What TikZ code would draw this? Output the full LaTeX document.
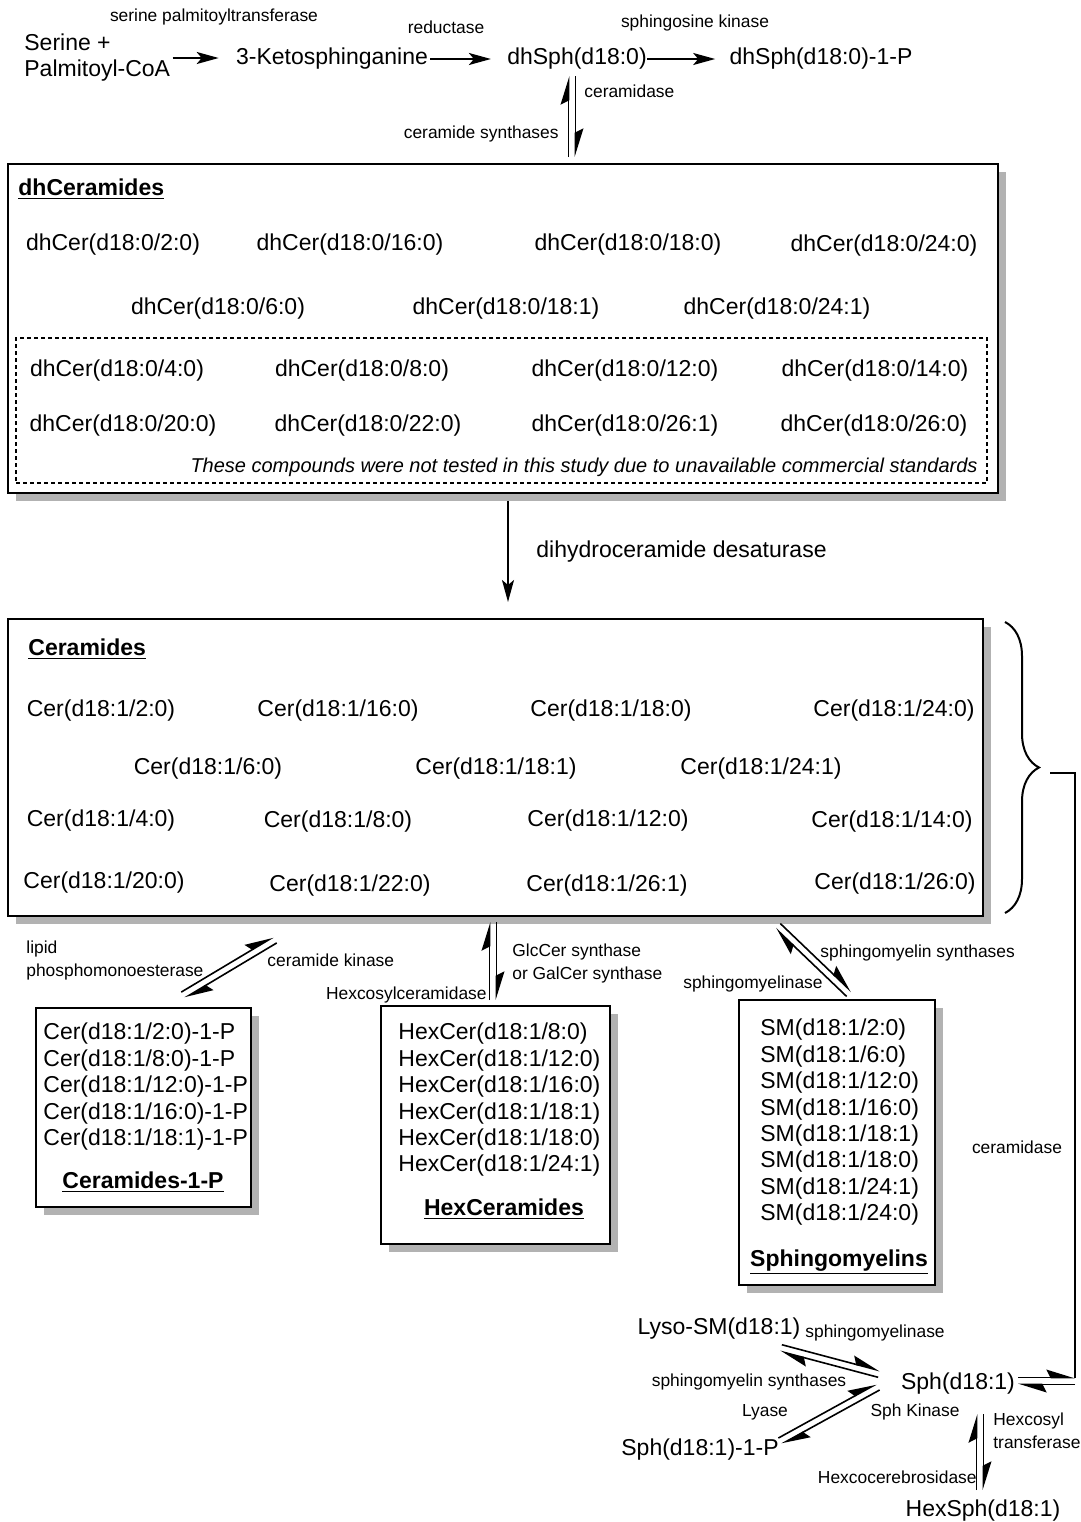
\documentclass[tikz,border=0pt]{standalone}
\usepackage{fontspec}
\setmainfont{Liberation Sans}
\usetikzlibrary{arrows.meta,calc,fit,shadows,decorations.pathreplacing}

\tikzset{
    main/.style={font=\fontsize{11.5}{13}\selectfont, inner sep=0pt, yshift=-1.5pt},
    lab/.style={font=\fontsize{8.7}{11.5}\selectfont, inner sep=0pt},
    ttl/.style={font=\fontsize{11.5}{13}\selectfont\bfseries, inner sep=0pt, anchor=base},
    item/.style={main, anchor=west},
    bigbox/.style={draw, line width=1pt, fill=white, inner sep=0pt,
        drop shadow={shadow xshift=4pt, shadow yshift=-4pt, fill=black!30, opacity=1}},
    fwd/.style={line width=1pt, -{Stealth[length=11pt, width=6pt, inset=2.5pt]}},
    half/.style={line width=0.8pt, -{Stealth[harpoon, length=13pt, width=8pt, inset=2pt]}},
}

% two opposite half arrows between #1 and #2
\newcommand{\eqpair}[2]{%
    \draw[half] ($(#1)!1.7pt!90:(#2)$) -- ($(#2)!1.7pt!-90:(#1)$);
    \draw[half] ($(#2)!1.7pt!90:(#1)$) -- ($(#1)!1.7pt!-90:(#2)$);
}

\begin{document}
\begin{tikzpicture}[x=0.5pt, y=-0.5pt]
    \useasboundingbox (0,0) rectangle (1081,1522);

    % top row
    \node[main, anchor=west, align=left] (serine) at (24,55) {Serine +\\Palmitoyl-CoA};
    \node[main] (keto) at (332,56) {3-Ketosphinganine};
    \node[main] (dhsph) at (577,56) {dhSph(d18:0)};
    \node[main] (dhsphp) at (821,56) {dhSph(d18:0)-1-P};
    \node[lab] (sptlab) at (214,17) {serine palmitoyltransferase};
    \node[lab] (redlab) at (446,27) {reductase};
    \node[lab] (sklab) at (695,23) {sphingosine kinase};
    \draw[fwd, shorten <=1pt, shorten >=8.5pt] (serine.east) -- (serine.east -| keto.west);
    \draw[fwd, shorten <=1pt, shorten >=8pt] (keto.east) -- (dhsph.west);
    \draw[fwd, shorten >=7pt] (dhsph.east) -- (dhsphp.west);

    \coordinate (ds1) at (572,76);
    \coordinate (ds2) at (572,157);
    \eqpair{ds1}{ds2}
    \node[lab, anchor=west] (cdlab) at (584,91) {ceramidase};
    \node[lab, anchor=east] (cslab) at (559,134) {ceramide synthases};

    % dhCeramides
    \node[bigbox, fit={(8,164) (998,493)}] (dhcer) {};
    \node[ttl, anchor=base west] (dhcerttl) at (18,195) {\underline{dhCeramides}};
    \foreach \x/\y/\t [count=\i] in {
        113/242/{dhCer(d18:0/2:0)}, 350/242/{dhCer(d18:0/16:0)},
        628/242/{dhCer(d18:0/18:0)}, 884/243/{dhCer(d18:0/24:0)},
        218/306/{dhCer(d18:0/6:0)}, 506/306/{dhCer(d18:0/18:1)},
        777/306/{dhCer(d18:0/24:1)},
        117/368/{dhCer(d18:0/4:0)}, 362/368/{dhCer(d18:0/8:0)},
        625/368/{dhCer(d18:0/12:0)}, 875/368/{dhCer(d18:0/14:0)},
        123/423/{dhCer(d18:0/20:0)}, 368/423/{dhCer(d18:0/22:0)},
        625/423/{dhCer(d18:0/26:1)}, 874/423/{dhCer(d18:0/26:0)}}
        \node[main] (dc\i) at (\x,\y) {\t};
    \node[draw, dashed, dash pattern=on 2pt off 1.5pt, line width=0.8pt, inner sep=0pt,
        fit={(16,338) (987,483)}] (untested) {};
    \node[font=\fontsize{10}{12}\selectfont\itshape, inner sep=0pt, anchor=east] (note)
        at (978,467) {These compounds were not tested in this study due to unavailable commercial standards};

    % Ceramides
    \node[bigbox, fit={(8,619) (983,916)}] (cer) {};
    \node[ttl, anchor=base west] (certtl) at (28,655) {\underline{Ceramides}};
    \foreach \x/\y/\t [count=\i] in {
        101/708/{Cer(d18:1/2:0)}, 338/708/{Cer(d18:1/16:0)},
        611/708/{Cer(d18:1/18:0)}, 894/708/{Cer(d18:1/24:0)},
        208/766/{Cer(d18:1/6:0)}, 496/766/{Cer(d18:1/18:1)},
        761/766/{Cer(d18:1/24:1)},
        101/818/{Cer(d18:1/4:0)}, 338/819/{Cer(d18:1/8:0)},
        608/818/{Cer(d18:1/12:0)}, 892/819/{Cer(d18:1/14:0)},
        104/880/{Cer(d18:1/20:0)}, 350/883/{Cer(d18:1/22:0)},
        607/883/{Cer(d18:1/26:1)}, 895/881/{Cer(d18:1/26:0)}}
        \node[main] (c\i) at (\x,\y) {\t};

    \draw[fwd, shorten <=3.5pt, shorten >=8pt] (508,0 |- dhcer.south) -- (508,0 |- cer.north);
    \node[main, anchor=west] (desat) at (536,549) {dihydroceramide desaturase};

    % brace to Sph
    \draw[line width=1pt, decorate, decoration={brace, amplitude=17pt}] (1005,622) -- (1005,913);
    \coordinate (bt) at (1050,773);
    \coordinate (sphr) at (1075,1377.6);
    \draw[line width=1pt] (bt) -| (sphr);
    \node[lab] (cdlab2) at (1017,1147) {ceramidase};

    % Ceramides-1-P
    \node[bigbox, fit={(36,1008) (251,1207)}] (c1pbox) {};
    \foreach \t [count=\i] in {Cer(d18:1/2:0)-1-P, Cer(d18:1/8:0)-1-P, Cer(d18:1/12:0)-1-P,
        Cer(d18:1/16:0)-1-P, Cer(d18:1/18:1)-1-P}
        \node[item] (cp\i) at (43,{1031+26.5*(\i-1)}) {\t};
    \node[ttl] (c1pttl) at (143,1188) {\underline{Ceramides-1-P}};

    % HexCeramides
    \node[bigbox, fit={(381,1006) (610,1244)}] (hexbox) {};
    \foreach \t [count=\i] in {HexCer(d18:1/8:0), HexCer(d18:1/12:0), HexCer(d18:1/16:0),
        HexCer(d18:1/18:1), HexCer(d18:1/18:0), HexCer(d18:1/24:1)}
        \node[item] (hc\i) at (398,{1031+26.4*(\i-1)}) {\t};
    \node[ttl] (hexttl) at (504,1215) {\underline{HexCeramides}};

    % Sphingomyelins
    \node[bigbox, fit={(739,1000) (935,1285)}] (smbox) {};
    \foreach \t [count=\i] in {SM(d18:1/2:0), SM(d18:1/6:0), SM(d18:1/12:0), SM(d18:1/16:0),
        SM(d18:1/18:1), SM(d18:1/18:0), SM(d18:1/24:1), SM(d18:1/24:0)}
        \node[item] (sm\i) at (760,{1027+26.4*(\i-1)}) {\t};
    \node[ttl] (smttl) at (839,1266) {\underline{Sphingomyelins}};

    % Cer <-> Cer-1-P
    \coordinate (cp1) at (183,995);
    \coordinate (cp2) at (275,940);
    \eqpair{cp1}{cp2}
    \node[lab, anchor=west, align=left] (lplab) at (26,960) {lipid\\phosphomonoesterase};
    \node[lab, anchor=west] (cklab) at (267,960) {ceramide kinase};

    % Cer <-> HexCer
    \coordinate (hx1) at (493,922);
    \coordinate (hx2) at (493,1000);
    \eqpair{hx1}{hx2}
    \node[lab, anchor=west, align=left] (gclab) at (512,963) {GlcCer synthase\\or GalCer synthase};
    \node[lab, anchor=east] (hclab) at (487,995) {Hexcosylceramidase};

    % Cer <-> SM
    \coordinate (sm1) at (778,926);
    \coordinate (sm2) at (849,994);
    \eqpair{sm1}{sm2}
    \node[lab, anchor=west] (smslab) at (820,953) {sphingomyelin synthases};
    \node[lab, anchor=east] (smaselab) at (823,984) {sphingomyelinase};

    % sphingoid bases
    \node[main] (lyso) at (719,1326) {Lyso-SM(d18:1)};
    \node[main] (sph) at (958,1381) {Sph(d18:1)};
    \node[main] (sphp) at (700,1447) {Sph(d18:1)-1-P};
    \node[main] (hexsph) at (983,1508) {HexSph(d18:1)};
    \node[lab, anchor=west] (lsmlab) at (805,1333) {sphingomyelinase};
    \node[lab] (lsslab) at (749,1382) {sphingomyelin synthases};
    \node[lab] (lyaselab) at (765,1412) {Lyase};
    \node[lab] (sphklab) at (915,1412) {Sph Kinase};
    \node[lab, anchor=west, align=left] (htlab) at (993,1431) {Hexcosyl\\transferase};
    \node[lab, anchor=east] (hcblab) at (977,1477) {Hexcocerebrosidase};

    \coordinate (ly1) at (781,1348);
    \coordinate (ly2) at (879,1374);
    \eqpair{ly1}{ly2}
    \coordinate (sp1) at (780,1441);
    \coordinate (sp2) at (878,1387);
    \eqpair{sp1}{sp2}
    \coordinate (hs1) at (980,1414);
    \coordinate (hs2) at (980,1490);
    \eqpair{hs1}{hs2}
    \coordinate (sr1) at (1018,1381);
    \coordinate (sr2) at (1075,1381);
    \eqpair{sr1}{sr2}
\end{tikzpicture}
\end{document}
